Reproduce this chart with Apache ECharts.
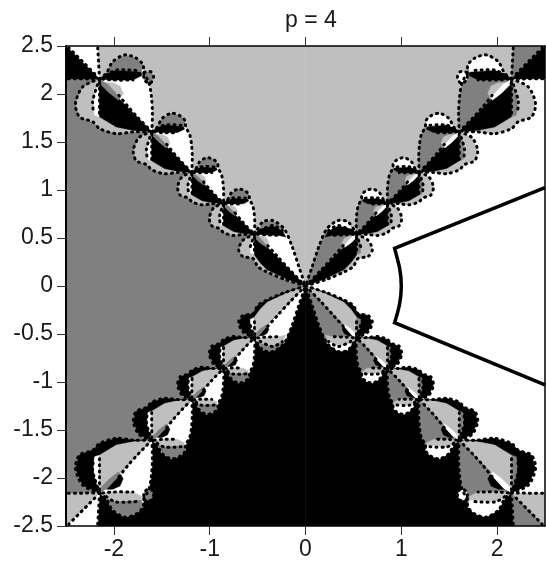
<!DOCTYPE html>
<html><head><meta charset="utf-8">
<style>html,body{margin:0;padding:0;background:#fff}#c{width:546px;height:565px}</style>
<script src="https://cdn.jsdelivr.net/npm/echarts@6/dist/echarts.min.js"></script>
</head><body><div id="c"></div>
<script>
// ---- tick values and title ----
const titleText = 'p = 4';
const xTicks = [-2, -1, 0, 1, 2];

// ---- basin colours (upper-left quadrant naming) ----
const WHITE = '#ffffff', LIGHT = '#bfbfbf', DARK = '#808080', BLACK = '#000000';

// ---- upper-left quadrant, data coordinates ----
const bgLight = [[-2.5, 2.5], [0, 2.5], [0, 0]];
const bgDark = [[-2.5, 2.5], [-2.5, 0], [0, 0]];
const chainNodes = [[-2.15, 2.156], [-1.604, 1.607], [-1.187, 1.184], [-0.856, 0.861], [-0.532, 0.539], [0, 0]];
const cornerWhite = [[-2.5, 2.5], [-2.17, 2.5], [-2.15, 2.156]];
const cornerBlack = [[-2.5, 2.5], [-2.15, 2.156], [-2.5, 2.16]];
const cornerDotsA = [[-2.15, 2.156], [-2.17, 2.5]];
const cornerDotsB = [[-2.15, 2.156], [-2.5, 2.16]];
const cornerDotsC = [[-2.2, 2.21], [-2.47, 2.48]];

// ---- lens shapes: (along chain, across chain) ----
const outerUpper = [[0,0],[.01,.12],[-.04,.29],[.01,.47],[.15,.55],[.28,.55],[.36,.48],[.50,.44],[.66,.33],[.83,.18],[1,0]];
const outerLower = [[0,0],[-.085,-.233],[.005,-.462],[.171,-.551],[.346,-.47],[.473,-.47],[.68,-.358],[.823,-.182],[1,0]];
const outerBand = [[0,0],[.137,.118],[.327,.31],[.37,.44],[.311,.47],[.072,.245],[.01,.12]];
const outerCap = [[.01,.12],[-.04,.29],[.01,.47],[.15,.55],[.28,.55],[.33,.47],[.072,.245]];
const outerSliverW = [[0,0],[.12,-.22],[.22,-.33],[.3,-.39],[.36,-.36]];
const outerWedgeK = [[0,0],[.361,-.359],[.616,-.294],[.807,-.166],[1,0],[.382,0]];
const outerEllipseL = [[.1,.03],[.38,.02],[.36,.09],[.26,.13],[.16,.09]];
const outerSlashD = [[.02,0],[.12,.03],[.38,.02],[.38,-.02],[.22,-.04],[.08,-.04]];
const outerInnerDots = [[0,0],[.08,-.16],[.15,-.28],[.27,-.38]];
const outerWedgeDots = [[.03,-.03],[.18,-.18],[.34,-.34]];
const outerAxisDots = [[.34,.03],[.55,.01],[.75,0],[.96,0]];
const outerBandDotsLow = [[.03,.03],[.137,.118],[.327,.31]];
const outerBandDotsHigh = [[.03,.1],[.072,.245],[.311,.47]];

const innerUpper = [[0,0],[-.04,.198],[.04,.31],[.233,.343],[.489,.248],[.746,.121],[1,0]];
const innerLower = [[0,0],[-.054,-.17],[0,-.307],[.107,-.329],[.219,-.249],[.347,-.28],[.475,-.248],[.746,-.135],[1,0]];
const innerBand = [[0,0],[.1,.09],[.25,.23],[.33,.28],[.233,.31],[.089,.262],[-.01,.1]];
const innerCap = [[-.01,.1],[-.04,.198],[.04,.31],[.233,.343],[.233,.31],[.089,.262]];
const innerSliverW = [[0,0],[.06,-.13],[.14,-.22],[.19,-.2]];
const innerWedgeK = [[0,0],[.2,-.2],[.33,-.22],[.47,-.22],[.74,-.12],[1,0],[.22,0]];
const innerEllipseL = [[.06,.02],[.24,.01],[.22,.06],[.16,.08],[.1,.06]];
const innerSlashD = [[.01,0],[.07,.02],[.24,.01],[.24,-.01],[.14,-.03],[.05,-.03]];
const innerInnerDots = [[0,0],[.05,-.1],[.1,-.2]];
const innerWedgeDots = [[.03,-.03],[.1,-.1],[.2,-.2]];
const innerAxisDots = [[.24,.02],[.45,.01],[.7,0],[.95,0]];
const innerBandDotsLow = [[.03,.03],[.1,.09],[.25,.23]];
const innerBandDotsHigh = [[.02,.09],[.089,.262],[.233,.31]];

const sideBubble = [[.36,.49],[.42,.56],[.5,.53],[.52,.44],[.43,.42]];

// ---- bright outline in the right basin ----
const contourX = [2.5, 0.93, 0.955, 0.98, 0.995, 1, 0.995, 0.98, 0.955, 0.93, 2.5];
const contourY = [1.026, 0.392, 0.3, 0.2, 0.1, 0, -0.1, -0.2, -0.3, -0.382, -1.03];

// ---- assemble polygons ----
const quadrants = [
  {sx: 1, sy: 1, map: {[WHITE]: WHITE, [LIGHT]: LIGHT, [DARK]: DARK, [BLACK]: BLACK}},
  {sx: -1, sy: 1, map: {[WHITE]: DARK, [LIGHT]: LIGHT, [DARK]: WHITE, [BLACK]: BLACK}},
  {sx: 1, sy: -1, map: {[WHITE]: WHITE, [LIGHT]: BLACK, [DARK]: DARK, [BLACK]: LIGHT}},
  {sx: -1, sy: -1, map: {[WHITE]: DARK, [LIGHT]: BLACK, [DARK]: WHITE, [BLACK]: LIGHT}}
];
const shapes = [];
function place(a, b, pts) {
  const dx = b[0] - a[0], dy = b[1] - a[1];
  return pts.map(p => [a[0] + p[0] * dx - p[1] * dy, a[1] + p[0] * dy + p[1] * dx]);
}
quadrants.forEach(q => {
  const put = (kind, color, pts) => shapes.push({
    kind, color: kind === 'fill' ? q.map[color] : BLACK,
    pts: pts.map(p => [p[0] * q.sx, p[1] * q.sy])
  });
  put('fill', LIGHT, bgLight);
  put('fill', DARK, bgDark);
  put('fill', WHITE, cornerWhite);
  put('fill', BLACK, cornerBlack);
  put('dots', BLACK, cornerDotsA);
  put('dots', BLACK, cornerDotsB);
  put('dots', BLACK, cornerDotsC);
  for (let i = 0; i < chainNodes.length - 1; i++) {
    const a = chainNodes[i], b = chainNodes[i + 1], inner = i === chainNodes.length - 2;
    const L = pts => place(a, b, pts);
    const up = inner ? innerUpper : outerUpper, low = inner ? innerLower : outerLower;
    put('fill', WHITE, L(up));
    put('fill', LIGHT, L(low));
    put('fill', WHITE, L(inner ? innerSliverW : outerSliverW));
    put('fill', BLACK, L(inner ? innerWedgeK : outerWedgeK));
    put('fill', BLACK, L(inner ? innerBand : outerBand));
    put('fill', DARK, L(inner ? innerCap : outerCap));
    put('fill', LIGHT, L(inner ? innerEllipseL : outerEllipseL));
    put('fill', DARK, L(inner ? innerSlashD : outerSlashD));
    if (i === 0) { put('fill', DARK, L(sideBubble)); put('dots', BLACK, L(sideBubble.concat([sideBubble[0]]))); }
    put('dots', BLACK, L(up));
    put('dots', BLACK, L(low));
    put('dots', BLACK, L(inner ? innerInnerDots : outerInnerDots));
    put('dots', BLACK, L(inner ? innerWedgeDots : outerWedgeDots));
    put('dots', BLACK, L(inner ? innerAxisDots : outerAxisDots));
    put('dots', BLACK, L(inner ? innerBandDotsLow : outerBandDotsLow));
    put('dots', BLACK, L(inner ? innerBandDotsHigh : outerBandDotsHigh));
  }
});

const chart = echarts.init(document.getElementById('c'), null, {renderer: 'canvas'});
const labelStyle = {fontFamily: 'Liberation Sans', fontSize: 23, color: '#1a1a1a'};
const lineStyle = {color: '#000', width: 1.5};
chart.setOption({
  animation: false,
  backgroundColor: '#fff',
  title: {text: titleText, left: 306, top: 4, textAlign: 'center',
    textStyle: {fontFamily: 'Liberation Sans', fontSize: 23, fontWeight: 'normal', color: '#1a1a1a'}},
  grid: {left: 66, right: 1, top: 46, bottom: 39, show: false},
  xAxis: [
    {type: 'value', min: -2.5, max: 2.5, position: 'bottom', z: 20, splitLine: {show: false},
      axisLine: {onZero: false, lineStyle}, axisTick: {length: 9, lineStyle: {color: '#333', width: 1}, customValues: xTicks},
      axisLabel: Object.assign({customValues: xTicks, margin: 12, formatter: v => String(v)}, labelStyle)},
    {type: 'value', min: -2.5, max: 2.5, position: 'top', z: 20, splitLine: {show: false},
      axisLine: {onZero: false, lineStyle}, axisTick: {length: 9, lineStyle: {color: '#333', width: 1}, customValues: xTicks},
      axisLabel: {show: false}}
  ],
  yAxis: [
    {type: 'value', min: -2.5, max: 2.5, interval: 0.5, position: 'left', z: 20, splitLine: {show: false},
      axisLine: {onZero: false, lineStyle: {color: '#000', width: 2}}, axisTick: {length: 9, lineStyle: {color: '#333', width: 1}},
      axisLabel: Object.assign({margin: 13, formatter: v => String(v)}, labelStyle)},
    {type: 'value', min: -2.5, max: 2.5, interval: 0.5, position: 'right', z: 20, splitLine: {show: false},
      axisLine: {onZero: false, lineStyle}, axisTick: {show: false}, axisLabel: {show: false}}
  ],
  series: [
    {type: 'custom', xAxisIndex: 0, yAxisIndex: 0, clip: true, z: 2, silent: true,
      data: shapes.map((s, i) => [i]),
      encode: {x: -1, y: -1},
      renderItem: (params, api) => {
        const s = shapes[params.dataIndex];
        const points = s.pts.map(p => api.coord(p));
        if (s.kind === 'fill') {
          return {type: 'polygon', shape: {points}, style: {fill: s.color, stroke: s.color, lineWidth: 0.5}};
        }
        return {type: 'polyline', shape: {points, smooth: 0.3},
          style: {fill: null, stroke: '#000', lineWidth: 3, lineDash: [1, 5], lineCap: 'round'}};
      }},
    {type: 'line', xAxisIndex: 0, yAxisIndex: 0, z: 3, symbol: 'none', silent: true,
      data: contourX.map((x, i) => [x, contourY[i]]),
      lineStyle: {color: '#000', width: 3.5, join: 'miter'}}
  ]
});
</script></body></html>
